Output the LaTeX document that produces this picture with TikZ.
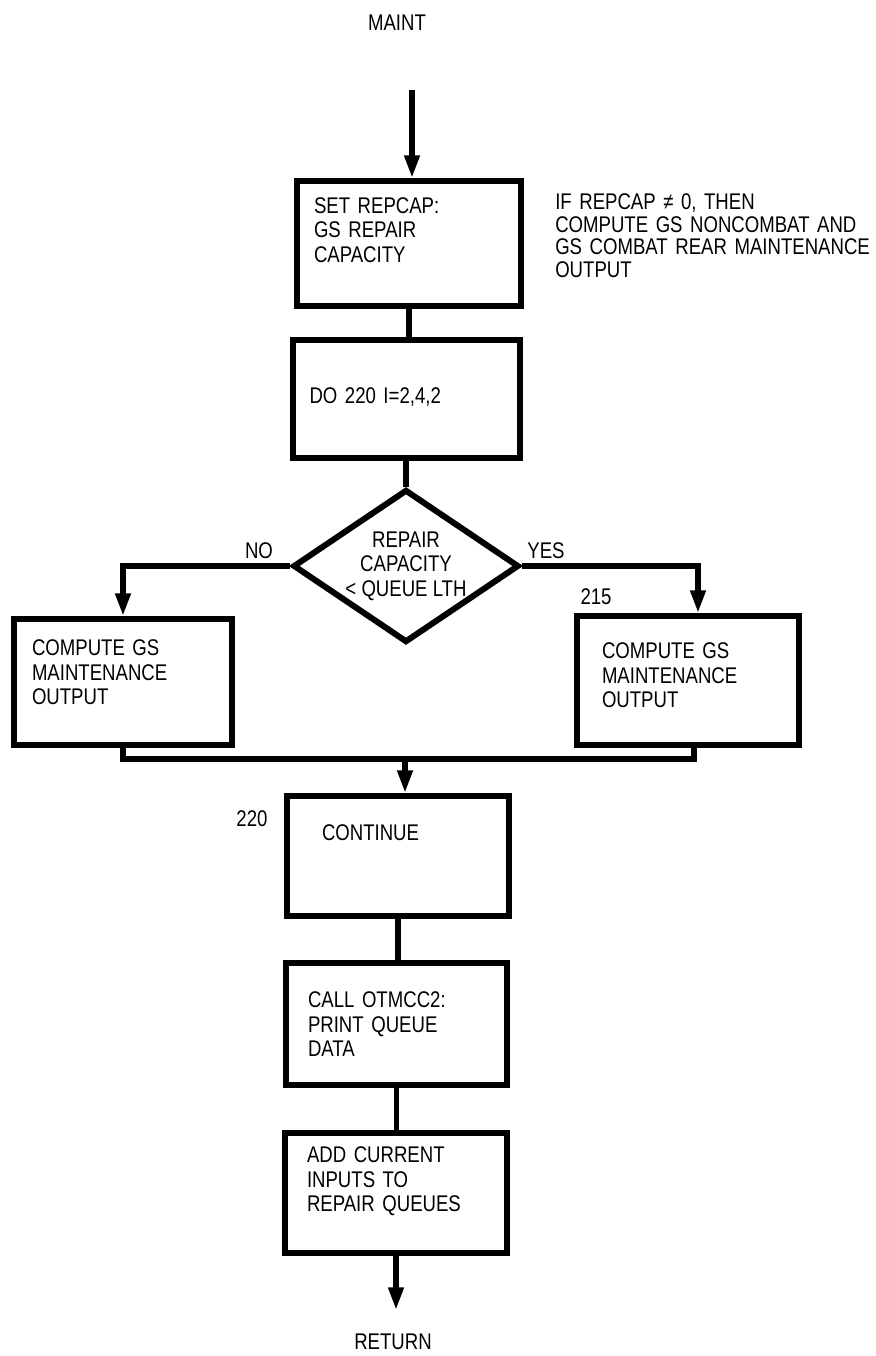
\documentclass[tikz,border=0pt]{standalone}
\usepackage{fontspec}
\setmainfont{Liberation Sans}[FakeStretch=0.82]
\usetikzlibrary{shapes.geometric,arrows.meta}

\begin{document}
\begin{tikzpicture}[x=0.75pt,y=-0.75pt,
  font=\fontsize{17}{18.4}\selectfont,
  box/.style={draw,rectangle,line width=4.5pt,anchor=north,align=left,inner ysep=0pt},
  decision/.style={draw,diamond,line width=4.5pt,align=center,inner sep=0pt,shape aspect=1.48},
  tag/.style={anchor=base,inner sep=0pt},
  flow/.style={line width=4pt},
  arrow/.style={flow,-{Triangle[length=17pt,width=11pt]}}]
  \useasboundingbox (0,0) rectangle (875,1356);

  \node[tag] (maint) at (397,30.5) {MAINT};
  \coordinate (entry) at (412,90);

  \node[box,text width=142.5pt,inner xsep=12.75pt,text height=24pt,text depth=69.75pt]
    (setcap) at (409,178) {SET REPCAP:\\GS REPAIR\\CAPACITY};
  \node[anchor=base west,text width=240pt,align=left,inner sep=0pt,
    font=\fontsize{17}{16.9}\selectfont] (note) at (555,209.5)
    {IF REPCAP ≠ 0, THEN\\COMPUTE GS NONCOMBAT AND\\GS COMBAT REAR MAINTENANCE\\OUTPUT};

  \node[box,text width=144.75pt,inner xsep=12.75pt,text height=47.6pt,text depth=40.9pt]
    (doloop) at (406,337) {DO 220 I=2,4,2};

  \node[decision,minimum width=169.5pt,minimum height=114.75pt]
    (test) at (406,566) {REPAIR\\CAPACITY\\< QUEUE LTH};
  \node[tag] (no) at (259,558.5) {NO};
  \node[tag] (yes) at (546,558.5) {YES};

  \node[box,text width=136.5pt,inner xsep=13.5pt,text height=27.4pt,text depth=67.1pt]
    (nobox) at (123,616) {COMPUTE GS\\MAINTENANCE\\OUTPUT};
  \node[box,text width=129pt,inner xsep=18.75pt,text height=31.9pt,text depth=64.9pt]
    (yesbox) at (688,613) {COMPUTE GS\\MAINTENANCE\\OUTPUT};
  \node[tag] (l215) at (596,604.5) {215};

  \coordinate (merge) at (405,759);

  \node[box,text width=114pt,inner xsep=26.25pt,text height=33.4pt,text depth=56.6pt]
    (contbox) at (398,793) {CONTINUE};
  \node[tag] (l220) at (252,826.5) {220};

  \node[box,text width=132.75pt,inner xsep=16.5pt,text height=33.4pt,text depth=58.1pt]
    (callbox) at (396.5,960) {CALL OTMCC2:\\PRINT QUEUE\\DATA};
  \node[box,text width=133.5pt,inner xsep=16.5pt,text height=22.1pt,text depth=67.9pt]
    (addbox) at (396,1130) {ADD CURRENT\\INPUTS TO\\REPAIR QUEUES};

  \coordinate (exit) at (399,1310);
  \node[tag] (return) at (393,1349.5) {RETURN};

  % connectors
  \draw[arrow] (entry) -- (entry |- setcap.north);
  \draw[flow] (setcap.south) -- (setcap.south |- doloop.north);
  \draw[flow] (doloop.south) -- (test.north);
  \draw[arrow] (test.west) -| (nobox.north);
  \draw[arrow] (test.east) -| ([xshift=7.5pt]yesbox.north);
  \draw[flow] (nobox.south) |- (merge) -| ([xshift=4.5pt]yesbox.south);
  \draw[arrow] (merge) -- (merge |- contbox.north);
  \draw[flow] (contbox.south) -- (contbox.south |- callbox.north);
  \draw[flow] (callbox.south) -- (callbox.south |- addbox.north);
  \draw[arrow] (addbox.south) -- (addbox.south |- exit);
\end{tikzpicture}
\end{document}
